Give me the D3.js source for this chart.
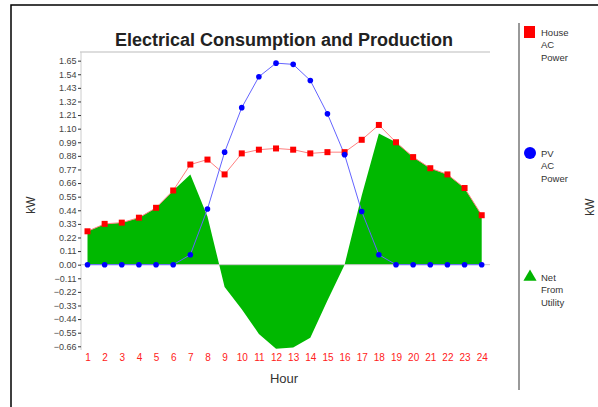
<!DOCTYPE html>
<html>
<head>
<meta charset="utf-8">
<script src="https://cdn.jsdelivr.net/npm/d3@7"></script>
<style>
  body { margin: 0; background: #fff; }
  svg { font-family: Arial, "Liberation Sans", sans-serif; }
</style>
</head>
<body>
<div id="chart"></div>
<script>
// hours of the day
const hours = [1,2,3,4,5,6,7,8,9,10,11,12,13,14,15,16,17,18,19,20,21,22,23,24];

// House AC Power (kW)
const houseAC = [0.27,0.33,0.34,0.38,0.46,0.60,0.81,0.85,0.73,0.90,0.93,0.94,
                 0.93,0.90,0.91,0.91,1.01,1.13,0.99,0.87,0.78,0.73,0.62,0.40];

// PV AC Power (kW)
const pvAC = [0,0,0,0,0,0,0.08,0.45,0.91,1.27,1.52,1.63,
              1.62,1.49,1.22,0.89,0.43,0.08,0,0,0,0,0,0];

// Net From Utility (kW)
const netUtility = [0.27,0.33,0.34,0.38,0.46,0.60,0.73,0.39,-0.18,-0.36,-0.56,-0.68,
                    -0.67,-0.59,-0.29,0.00,0.56,1.06,0.99,0.87,0.78,0.73,0.62,0.40];

// y tick labels
const yTicks = [1.65,1.54,1.43,1.32,1.21,1.10,0.99,0.88,0.77,0.66,0.55,0.44,0.33,0.22,0.11,
                0.00,-0.11,-0.22,-0.33,-0.44,-0.55,-0.66];

const legendItems = [
  { lines: ['House', 'AC', 'Power'], color: '#ff0000', shape: 'square', y: 32 },
  { lines: ['PV', 'AC', 'Power'], color: '#0000ff', shape: 'circle', y: 153 },
  { lines: ['Net', 'From', 'Utility'], color: '#00b400', shape: 'triangle', y: 277 }
];

const W = 598, H = 407;
const svg = d3.select('#chart').append('svg')
  .attr('width', W)
  .attr('height', H);

// outer frame (runs off the right and bottom edge)
svg.append('rect')
  .attr('x', 11).attr('y', 5)
  .attr('width', 620).attr('height', 420)
  .style('fill', '#fff')
  .style('stroke', '#000')
  .style('stroke-width', 1.5);

// scales
const x = d3.scaleLinear().domain([1, 24]).range([87.5, 481.7]);
const y = d3.scaleLinear().domain([-0.69, 1.72]).range([350, 52]);

// title
svg.append('text')
  .attr('x', 284).attr('y', 46)
  .style('text-anchor', 'middle')
  .style('font-size', '18px')
  .style('font-weight', 'bold')
  .style('fill', '#222')
  .text('Electrical Consumption and Production');

// top border of plot
svg.append('line')
  .attr('x1', 80).attr('x2', 490)
  .attr('y1', 52).attr('y2', 52)
  .style('stroke', '#ddd').style('stroke-width', 2);

// green area for net from utility
const area = d3.area()
  .x((d, i) => x(hours[i]))
  .y0(y(0))
  .y1(d => y(d));

svg.append('path')
  .datum(netUtility)
  .attr('d', area)
  .style('fill', '#00b800');

// zero line
svg.append('line')
  .attr('x1', 80).attr('x2', 490)
  .attr('y1', y(0)).attr('y2', y(0))
  .style('stroke', '#c8c8c8').style('stroke-width', 1);

// y axis
const yAxis = svg.append('g')
  .attr('transform', 'translate(81,0)')
  .call(d3.axisLeft(y).tickValues(yTicks).tickSize(3).tickPadding(1.5).tickFormat(d3.format('.2f')));
yAxis.select('.domain').style('stroke', '#ccc').attr('d', `M0,52V350`);
yAxis.selectAll('.tick line').style('stroke', '#333');
yAxis.selectAll('text').style('font-size', '9px').style('fill', '#444');

// x axis labels
const xAxis = svg.append('g')
  .attr('transform', 'translate(0,352)')
  .call(d3.axisBottom(x).tickValues(hours).tickSize(0).tickPadding(2).tickFormat(d3.format('d')));
xAxis.select('.domain').remove();
xAxis.selectAll('text').style('font-size', '10px').style('fill', '#ff2020');

// lines
const line = d3.line()
  .x((d, i) => x(hours[i]))
  .y(d => y(d));

svg.append('path')
  .datum(houseAC)
  .attr('d', line)
  .style('fill', 'none')
  .style('stroke', '#ff8080')
  .style('stroke-width', 1);

svg.append('path')
  .datum(pvAC)
  .attr('d', line)
  .style('fill', 'none')
  .style('stroke', '#6464ff')
  .style('stroke-width', 1);

// markers
svg.selectAll('.house-pt')
  .data(houseAC)
  .enter().append('rect')
  .attr('class', 'house-pt')
  .attr('x', (d, i) => x(hours[i]) - 3)
  .attr('y', d => y(d) - 3)
  .attr('width', 6).attr('height', 6)
  .style('fill', '#ff0000');

svg.selectAll('.pv-pt')
  .data(pvAC)
  .enter().append('circle')
  .attr('class', 'pv-pt')
  .attr('cx', (d, i) => x(hours[i]))
  .attr('cy', d => y(d))
  .attr('r', 2.8)
  .style('fill', '#0000ff');

// axis titles
svg.append('text')
  .attr('transform', 'translate(35,205) rotate(-90)')
  .style('text-anchor', 'middle')
  .style('font-size', '12px')
  .style('fill', '#333')
  .text('kW');

svg.append('text')
  .attr('x', 284).attr('y', 383)
  .style('text-anchor', 'middle')
  .style('font-size', '13px')
  .style('fill', '#333')
  .text('Hour');

svg.append('text')
  .attr('transform', 'translate(594,207) rotate(-90)')
  .style('text-anchor', 'middle')
  .style('font-size', '12px')
  .style('fill', '#333')
  .text('kW');

// legend
svg.append('line')
  .attr('x1', 519).attr('x2', 519)
  .attr('y1', 23).attr('y2', 390)
  .style('stroke', '#777').style('stroke-width', 1.5);

const legend = svg.selectAll('.legend')
  .data(legendItems)
  .enter().append('g')
  .attr('class', 'legend')
  .attr('transform', d => `translate(530,${d.y})`);

legend.each(function(d) {
  const g = d3.select(this);
  if (d.shape === 'square') {
    g.append('rect').attr('x', -6).attr('y', -6).attr('width', 11).attr('height', 12).style('fill', d.color);
  } else if (d.shape === 'circle') {
    g.append('circle').attr('r', 6).style('fill', d.color);
  } else {
    g.append('path').attr('d', d3.symbol().type(d3.symbolTriangle).size(75)).style('fill', d.color);
  }
  g.selectAll('text')
    .data(d.lines)
    .enter().append('text')
    .attr('x', 11)
    .attr('y', (t, i) => 3.5 + i * 12.5)
    .style('font-size', '9.5px')
    .style('fill', '#333')
    .text(t => t);
});
</script>
</body>
</html>
